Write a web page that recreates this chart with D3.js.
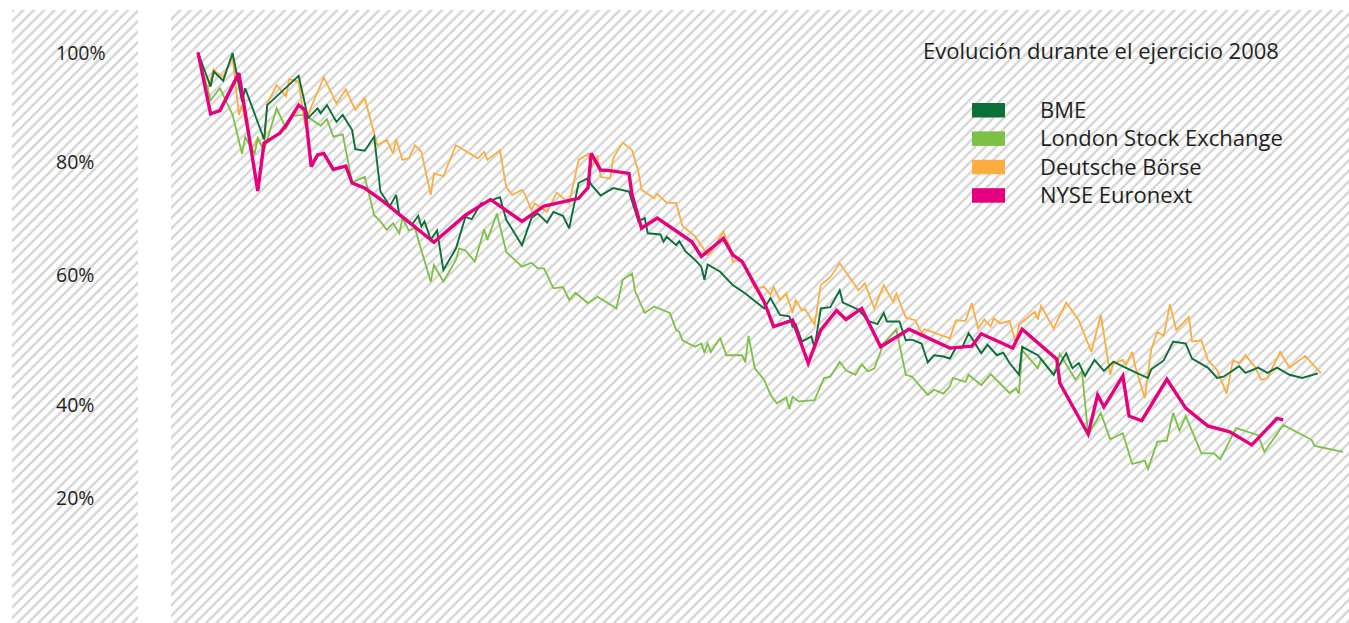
<!DOCTYPE html>
<html lang="es">
<head>
<meta charset="utf-8">
<title>Evolución durante el ejercicio 2008</title>
<script src="https://cdn.jsdelivr.net/npm/d3@7"></script>
<style>
    html, body { margin: 0; padding: 0; background: #fff; }
    svg { display: block; }
</style>
</head>
<body>
<div id="chart"></div>
<script>
'use strict';

const chartTitle = "Evolución durante el ejercicio 2008";
const seriesNames = ["BME", "London Stock Exchange", "Deutsche Börse", "NYSE Euronext"];
const seriesColors = ["#0b6f37", "#7cc143", "#fbad3f", "#e6007e"];
const yTicks = [1, 0.8, 0.6, 0.4, 0.2];

// día del año 2008 y valor en % (base 100 = primera sesión)
const bmeDays = [2, 6, 7, 10, 13, 16, 17, 23, 24, 34, 37, 40, 41, 43, 46, 48, 51, 52, 55, 58,
    60, 63, 65, 66, 70, 72, 73, 74, 76, 78, 80, 84, 87, 89, 92, 93, 98, 100, 105, 108,
    110, 113, 115, 118, 120, 123, 126, 127, 130, 134, 139, 142, 143, 144, 145, 149, 150, 151, 154, 155,
    157, 160, 162, 163, 164, 168, 172, 176, 182, 184, 187, 190, 191, 192, 194, 197, 198, 200, 203, 206,
    207, 212, 215, 218, 220, 221, 225, 227, 229, 232, 234, 236, 239, 241, 243, 245, 247, 251, 253, 256,
    258, 260, 263, 264, 269, 274, 278, 280, 282, 284, 287, 290, 293, 296, 299, 304, 305, 309, 312, 316,
    318, 323, 326, 328, 333, 335, 339, 342, 345, 349, 353, 358];
const bmeValues = [100, 93.7, 96.5, 94.8, 99.9, 90.9, 93.4, 84.0, 90.3, 95.7, 87.9, 89.7, 88.8, 90.3, 87.2, 88.5, 85.7, 82.2, 81.9, 84.5,
    74.6, 72.0, 74.0, 70.4, 68.7, 70.3, 68.4, 69.3, 66.1, 67.7, 60.7, 64.5, 70.1, 69.7, 72.5, 72.6, 73.6, 69.6, 65.1, 69.9,
    70.7, 69.1, 71.0, 70.3, 68.1, 76.1, 77.0, 75.8, 73.9, 75.2, 74.6, 69.3, 69.6, 69.9, 67.2, 67.0, 65.7, 66.6, 65.1, 65.8,
    64.0, 62.5, 61.3, 59.1, 61.7, 60.4, 58.3, 57.0, 54.7, 56.3, 53.7, 53.5, 51.9, 52.3, 49.6, 50.4, 48.6, 54.7, 54.9, 57.5,
    55.6, 54.5, 52.8, 52.3, 54.0, 52.7, 52.7, 49.8, 49.9, 49.3, 46.4, 47.5, 47.3, 47.0, 48.7, 48.8, 50.9, 47.8, 49.1, 47.5,
    47.9, 46.3, 44.5, 48.8, 47.5, 44.5, 47.8, 45.5, 46.3, 44.3, 46.8, 45.1, 46.5, 45.8, 45.1, 44.0, 45.3, 46.7, 49.6, 49.3,
    47.0, 45.6, 44.0, 44.2, 45.8, 44.8, 45.6, 44.8, 45.6, 44.5, 44.0, 44.7];

const lseDays = [2, 6, 9, 13, 16, 17, 20, 21, 23, 27, 30, 32, 36, 41, 43, 45, 48, 51, 55, 58,
    60, 62, 64, 66, 67, 69, 71, 73, 76, 77, 80, 84, 85, 87, 90, 93, 94, 97, 100, 105,
    108, 110, 112, 115, 118, 120, 122, 126, 129, 132, 135, 137, 140, 141, 144, 147, 152, 154, 155, 156,
    160, 162, 163, 164, 165, 168, 170, 175, 176, 177, 179, 182, 184, 186, 189, 190, 191, 193, 198, 201,
    203, 206, 208, 211, 213, 215, 217, 220, 224, 227, 229, 234, 236, 239, 241, 242, 246, 247, 251, 254,
    260, 262, 263, 264, 269, 270, 274, 276, 281, 283, 285, 289, 292, 296, 299, 303, 304, 307, 310, 312,
    314, 316, 321, 325, 327, 332, 339, 341, 347, 352, 356, 357, 366];
const lseValues = [100, 91.2, 93.4, 88.5, 81.3, 84.4, 81.4, 84.2, 82.0, 89.7, 86.0, 88.3, 88.5, 86.5, 87.7, 84.5, 84.9, 76.2, 77.2, 70.4,
    69.3, 67.8, 69.0, 67.2, 69.9, 67.7, 68.1, 64.2, 58.8, 61.6, 58.8, 62.5, 64.5, 64.2, 62.2, 67.9, 66.0, 70.7, 63.9, 61.3,
    62.0, 61.0, 61.0, 57.8, 58.0, 56.0, 57.1, 55.5, 56.5, 55.6, 54.7, 59.1, 60.1, 57.3, 54.0, 55.0, 54.0, 51.4, 51.1, 49.8,
    48.8, 49.3, 47.9, 49.3, 48.0, 50.1, 47.5, 47.5, 46.4, 50.5, 45.5, 43.7, 41.4, 40.1, 41.0, 38.9, 41.1, 40.4, 40.6, 44.0,
    44.2, 46.5, 45.2, 44.5, 46.1, 45.0, 45.5, 49.3, 51.5, 44.5, 44.2, 41.4, 42.2, 41.6, 42.7, 44.0, 43.4, 44.5, 42.9, 44.6,
    41.7, 42.4, 41.6, 48.3, 45.5, 47.0, 44.5, 47.7, 43.7, 45.1, 33.3, 38.1, 32.4, 33.7, 27.1, 27.8, 26.0, 31.9, 32.1, 38.1,
    34.3, 37.4, 29.4, 29.4, 28.1, 34.8, 33.3, 29.7, 35.5, 33.7, 32.3, 31.0, 29.7];

const dbDays = [2, 5, 7, 8, 10, 13, 15, 16, 19, 21, 23, 24, 27, 30, 31, 34, 36, 38, 42, 46,
    49, 52, 55, 59, 62, 64, 65, 67, 69, 71, 73, 76, 77, 80, 84, 91, 93, 94, 98, 100,
    102, 105, 106, 108, 109, 113, 116, 120, 123, 126, 127, 128, 129, 130, 133, 134, 137, 140, 142, 143,
    147, 148, 151, 154, 156, 160, 164, 165, 169, 170, 171, 172, 175, 179, 182, 184, 185, 187, 189, 191,
    192, 194, 195, 198, 200, 203, 206, 212, 214, 217, 220, 223, 224, 227, 230, 232, 233, 241, 243, 246,
    248, 250, 252, 254, 255, 257, 260, 262, 263, 268, 269, 270, 274, 278, 282, 286, 289, 292, 293, 296,
    297, 299, 300, 303, 305, 307, 309, 311, 313, 317, 318, 321, 323, 326, 329, 331, 333, 335, 338, 340,
    342, 346, 349, 354, 359];
const dbValues = [100, 93.1, 96.9, 96.2, 95.5, 99.2, 88.5, 90.3, 82.3, 84.2, 81.7, 90.6, 94.0, 91.9, 95.1, 94.6, 86.6, 90.0, 95.4, 90.6,
    93.2, 89.4, 91.6, 82.9, 83.9, 81.4, 84.0, 80.2, 80.5, 82.9, 81.7, 74.0, 77.8, 77.3, 82.9, 80.5, 81.7, 80.2, 82.0, 75.3,
    74.0, 74.9, 74.0, 71.3, 72.5, 71.0, 74.4, 72.5, 80.2, 81.3, 78.7, 79.9, 80.8, 77.2, 76.9, 80.5, 83.4, 82.0, 78.1, 74.9,
    73.4, 74.2, 72.6, 72.6, 68.5, 66.7, 63.4, 63.8, 67.5, 66.0, 65.1, 62.2, 62.4, 57.8, 58.0, 56.8, 58.0, 56.0, 57.0, 54.0,
    56.0, 54.4, 54.6, 52.2, 58.3, 59.5, 61.9, 57.5, 58.6, 54.7, 58.3, 55.7, 57.0, 53.3, 52.9, 50.9, 51.5, 50.1, 52.9, 52.8,
    55.5, 51.6, 53.0, 51.9, 53.2, 52.4, 52.8, 49.4, 52.2, 54.2, 53.0, 55.1, 51.6, 55.6, 52.9, 48.0, 53.7, 44.5, 46.2, 46.8,
    46.0, 48.0, 45.7, 40.9, 48.3, 51.1, 50.5, 55.3, 51.4, 53.4, 49.6, 49.8, 46.8, 45.2, 41.6, 46.7, 46.3, 47.5, 45.7, 43.7,
    44.0, 48.0, 45.6, 47.4, 44.7];

const nyseDays = [2, 6, 9, 15, 21, 23, 28, 30, 34, 36, 38, 40, 42, 45, 49, 51, 55, 61, 77, 87,
    95, 105, 112, 123, 126, 127, 130, 133, 139, 140, 143, 148, 159, 162, 169, 172, 175, 182, 185, 191,
    196, 200, 205, 208, 213, 219, 228, 233, 241, 248, 251, 261, 264, 275, 276, 285, 288, 290, 296, 298,
    302, 310, 316, 323, 330, 337, 345, 347];
const nyseValues = [100, 88.7, 89.3, 96.2, 74.7, 83.3, 85.1, 86.6, 90.3, 89.4, 79.0, 81.1, 81.4, 78.5, 79.1, 76.1, 75.2, 72.8, 65.6, 70.4,
    73.2, 69.3, 72.0, 73.4, 75.3, 81.4, 78.4, 78.3, 77.8, 74.0, 68.1, 69.9, 65.7, 63.1, 66.3, 63.4, 62.2, 55.7, 51.9, 52.9,
    46.3, 51.4, 54.4, 53.0, 54.7, 48.8, 51.5, 50.4, 48.6, 48.9, 50.8, 48.6, 51.5, 46.9, 43.2, 33.5, 41.4, 39.4, 44.3, 37.4,
    36.4, 43.8, 39.1, 35.3, 34.0, 31.2, 36.9, 36.6];

/**
 * Gráfico de evolución bursátil con fondo rayado
 */
class EvolutionChart {
    constructor(params) {
        this.params = params;
        this.x = d3.scaleLinear()
            .domain([2, 366])
            .range([198, 1343]);
        // la escala del original no es uniforme: se respeta la posición de cada etiqueta
        this.y = d3.scaleLinear()
            .domain(yTicks)
            .range([52.5, 161, 274, 404, 497]);
        this.line = d3.line()
            .x(d => this.x(d.day))
            .y(d => this.y(d.value / 100));
    }

    makeSVG() {
        return d3.select(this.params.id).append("svg")
            .attr("width", this.params.width)
            .attr("height", this.params.height)
            .style("background", "#ffffff");
    }

    drawBackground(svg) {
        let size = 7.4;
        let pattern = svg.append("defs").append("pattern")
            .attr("id", "hatch")
            .attr("patternUnits", "userSpaceOnUse")
            .attr("width", size)
            .attr("height", size)
            .attr("patternTransform", "rotate(45)");
        pattern.append("rect")
            .attr("width", size)
            .attr("height", size)
            .attr("fill", "#ffffff");
        pattern.append("line")
            .attr("x1", 1.5).attr("y1", 0)
            .attr("x2", 1.5).attr("y2", size)
            .attr("stroke", "#d3d3d3")
            .attr("stroke-width", 2.3);

        // panel de etiquetas y panel del gráfico
        svg.append("rect")
            .attr("x", 12).attr("y", 10)
            .attr("width", 126).attr("height", 613)
            .attr("fill", "url(#hatch)");
        svg.append("rect")
            .attr("x", 171).attr("y", 10)
            .attr("width", 1178).attr("height", 613)
            .attr("fill", "url(#hatch)");
    }

    drawAxis(svg) {
        let axis = svg.append("g")
            .attr("transform", "translate(56,0)")
            .call(d3.axisRight(this.y)
                .tickValues(yTicks)
                .tickSize(0)
                .tickPadding(0)
                .tickFormat(d3.format(".0%")));
        axis.select(".domain").remove();
        axis.selectAll("text")
            .attr("dy", "0.38em")
            .style("font-family", "'Open Sans', sans-serif")
            .style("font-size", "19.5px")
            .style("fill", "#231f20");
    }

    drawLines(svg) {
        let series = [
            {days: dbDays, values: dbValues, color: seriesColors[2], width: 1.8},
            {days: lseDays, values: lseValues, color: seriesColors[1], width: 1.8},
            {days: bmeDays, values: bmeValues, color: seriesColors[0], width: 1.9},
            {days: nyseDays, values: nyseValues, color: seriesColors[3], width: 3.4}
        ];
        series.forEach((s) => {
            let data = s.days.map((day, i) => ({day: day, value: s.values[i]}));
            svg.append("path")
                .attr("d", this.line(data))
                .style("fill", "none")
                .style("stroke", s.color)
                .style("stroke-width", s.width)
                .style("stroke-linejoin", "miter")
                .style("stroke-miterlimit", 3);
        });
    }

    drawLegend(svg) {
        svg.append("text")
            .attr("x", 923)
            .attr("y", 51)
            .attr("dy", "0.35em")
            .style("font-family", "'Open Sans', sans-serif")
            .style("font-size", "22px")
            .style("fill", "#231f20")
            .text(chartTitle);

        let items = svg.append("g").selectAll("g")
            .data(seriesNames)
            .enter().append("g")
            .attr("transform", (d, i) => "translate(0," + (i * 28.4) + ")");
        items.append("rect")
            .attr("x", 972).attr("y", 103)
            .attr("width", 33).attr("height", 14.5)
            .attr("fill", (d, i) => seriesColors[i]);
        items.append("text")
            .attr("x", 1040).attr("y", 110.3)
            .attr("dy", "0.35em")
            .style("font-family", "'Open Sans', sans-serif")
            .style("font-size", "22px")
            .style("fill", "#231f20")
            .text(d => d);
    }

    render() {
        let svg = this.makeSVG();
        this.drawBackground(svg);
        this.drawAxis(svg);
        this.drawLines(svg);
        this.drawLegend(svg);
    }
}

new EvolutionChart({id: "#chart", width: 1349, height: 623}).render();
</script>
</body>
</html>
